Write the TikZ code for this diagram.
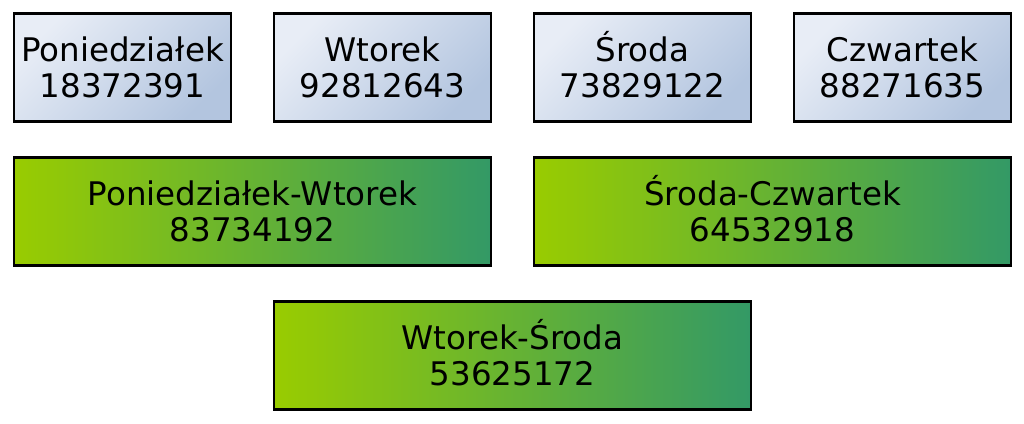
\documentclass[tikz,border=0pt]{standalone}
\usepackage{fontspec}
\setmainfont{DejaVu Sans}
\definecolor{bluelight}{HTML}{E8EDF6}
\definecolor{bluedark}{HTML}{B3C5DF}
\definecolor{greenl}{HTML}{99CC00}
\definecolor{greenr}{HTML}{339966}
\newcommand\firstln[1]{\smash{#1}\vphantom{Pd}}
\tikzset{
  base/.style={draw=black, line width=2.2pt, align=center, inner sep=0pt,
    font=\fontsize{32.5}{36}\selectfont, text=black},
  daybox/.style={base, minimum width=217pt, minimum height=108pt,
    top color=bluelight, bottom color=bluedark, shading angle=45},
  pairbox/.style={base, minimum width=477pt, minimum height=108pt,
    left color=greenl, right color=greenr}
}
\begin{document}
\begin{tikzpicture}[x=1pt,y=-1pt]
\useasboundingbox[fill=white] (0,0) rectangle (1024,423);
\node[daybox] (pon) at (122.5,67.5) {\firstln{Poniedziałek}\\18372391};
\node[daybox] (wt) at (382.5,67.5) {\firstln{Wtorek}\\92812643};
\node[daybox] (sr) at (642.5,67.5) {\firstln{Środa}\\73829122};
\node[daybox] (czw) at (902.5,67.5) {\firstln{Czwartek}\\88271635};
\node[pairbox] (ponwt) at (252.5,211.5) {\firstln{Poniedziałek-Wtorek}\\83734192};
\node[pairbox] (srczw) at (772.5,211.5) {\firstln{Środa-Czwartek}\\64532918};
\node[pairbox] (wtsr) at (512.5,355.5) {\firstln{Wtorek-Środa}\\53625172};
\end{tikzpicture}
\end{document}
